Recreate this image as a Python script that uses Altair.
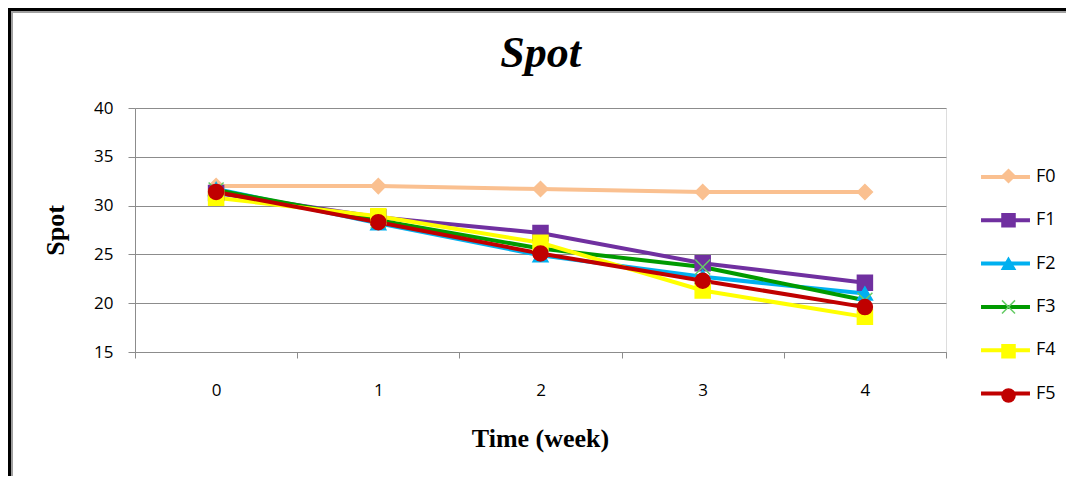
import altair as alt
import pandas as pd

weeks = [0, 1, 2, 3, 4]
series = ["F0", "F1", "F2", "F3", "F4", "F5"]
F0 = [32.0, 32.0, 31.7, 31.4, 31.4]
F1 = [31.3, 28.8, 27.2, 24.1, 22.1]
F2 = [31.7, 28.2, 24.9, 22.7, 21.0]
F3 = [31.6, 28.5, 25.6, 23.7, 20.3]
F4 = [30.8, 28.9, 26.2, 21.3, 18.6]
F5 = [31.4, 28.3, 25.1, 22.3, 19.6]

line_colors = ["#FAC090", "#7030A0", "#00B0F0", "#009A00", "#FFFF00", "#C00000"]
marker_strokes = ["#FAC090", "#7030A0", "#00B0F0", "#66CC66", "#FFFF00", "#C00000"]
shapes = ["diamond", "square", "triangle-up", "M-1,-1L1,1M-1,1L1,-1", "square", "circle"]

rows = []
for name, vals in zip(series, [F0, F1, F2, F3, F4, F5]):
    for w, v in zip(weeks, vals):
        rows.append({"week": str(w), "Spot": v, "Formula": name, "Marker": name})
df = pd.DataFrame(rows)

FONT_LBL = "Open Sans"
FONT_SERIF = "Liberation Serif"
GREY = "#8C8C8C"

x_enc = alt.X(
    "week:O",
    sort=[str(w) for w in weeks],
    scale=alt.Scale(type="band", paddingInner=0, paddingOuter=0),
    axis=alt.Axis(
        title="Time (week)", labelAngle=0, grid=False, tickBand="extent",
        domainColor=GREY, tickColor=GREY, tickSize=6, labelPadding=24,
        labelFont=FONT_LBL, labelFontSize=17, labelColor="#000000",
        titleFont=FONT_SERIF, titleFontSize=26, titleFontWeight="bold",
        titleColor="#000000", titleX=405, titleY=86, titleBaseline="middle",
    ),
)
y_enc = alt.Y(
    "Spot:Q",
    scale=alt.Scale(domain=[15, 40], nice=False, zero=False),
    axis=alt.Axis(
        title="Spot", values=[15, 20, 25, 30, 35, 40], grid=True, gridColor=GREY,
        domainColor=GREY, tickColor=GREY, tickSize=7, labelPadding=15,
        labelFont=FONT_LBL, labelFontSize=17, labelColor="#000000",
        titleFont=FONT_SERIF, titleFontSize=26, titleFontWeight="bold",
        titleColor="#000000", titleX=-80, titleY=122, titleAngle=-90,
        titleBaseline="middle", titleAlign="center",
    ),
)

frame_df = pd.DataFrame({"k": [0]})
frame_outer = alt.Chart(frame_df).mark_rect(
    fill=None, fillOpacity=0, stroke="#000000", strokeWidth=3
).encode(x=alt.value(-125.5), x2=alt.value(1200), y=alt.value(-98.5), y2=alt.value(1000))
frame_inner = alt.Chart(frame_df).mark_rect(
    fill=None, fillOpacity=0, stroke="#A0A0A0", strokeWidth=2
).encode(x=alt.value(-123), x2=alt.value(1200), y=alt.value(-96), y2=alt.value(1000))

lines = alt.Chart(df).mark_line(strokeWidth=4).encode(
    x=x_enc,
    y=y_enc,
    color=alt.Color(
        "Formula:N",
        scale=alt.Scale(domain=series, range=line_colors),
        legend=alt.Legend(
            title=None, orient="none", legendX=860.5, legendY=59, padding=0,
            symbolType="M-3.06,0H3.06", symbolSize=256, symbolStrokeWidth=4,
            labelFont=FONT_LBL, labelFontSize=18, labelColor="#000000",
            labelOffset=20.5, rowPadding=24.3,
        ),
    ),
    order=alt.Order("week:O"),
)

points = alt.Chart(df).mark_point(filled=True, size=225, strokeWidth=1.5, opacity=1).encode(
    x=alt.X("week:O", sort=[str(w) for w in weeks]),
    y=alt.Y("Spot:Q"),
    shape=alt.Shape(
        "Marker:N",
        scale=alt.Scale(range=shapes),
        legend=alt.Legend(
            title=None, orient="none", legendX=864.5, legendY=59, padding=0,
            symbolSize=170, symbolStrokeWidth=1.5,
            labelFont=FONT_LBL, labelFontSize=18, labelExpr="''",
            labelOffset=6, rowPadding=24.3,
        ),
    ),
    fill=alt.Fill("Marker:N", scale=alt.Scale(range=line_colors)),
    stroke=alt.Stroke("Marker:N", scale=alt.Scale(range=marker_strokes)),
)

chart = alt.layer(frame_outer, frame_inner, lines, points).properties(
    width=811,
    height=244,
    autosize=alt.AutoSizeParams(type="none"),
    padding={"left": 127, "top": 100, "right": 120, "bottom": 124},
    title=alt.TitleParams(
        "Spot", font=FONT_SERIF, fontSize=44, fontWeight="bold", fontStyle="italic",
        anchor="middle", frame="group", baseline="alphabetic", offset=-103, color="#000000",
    ),
).configure_view(stroke=None).configure(background="#FFFFFF")

chart.save("out.html", embed_options={"renderer": "svg", "actions": False})
